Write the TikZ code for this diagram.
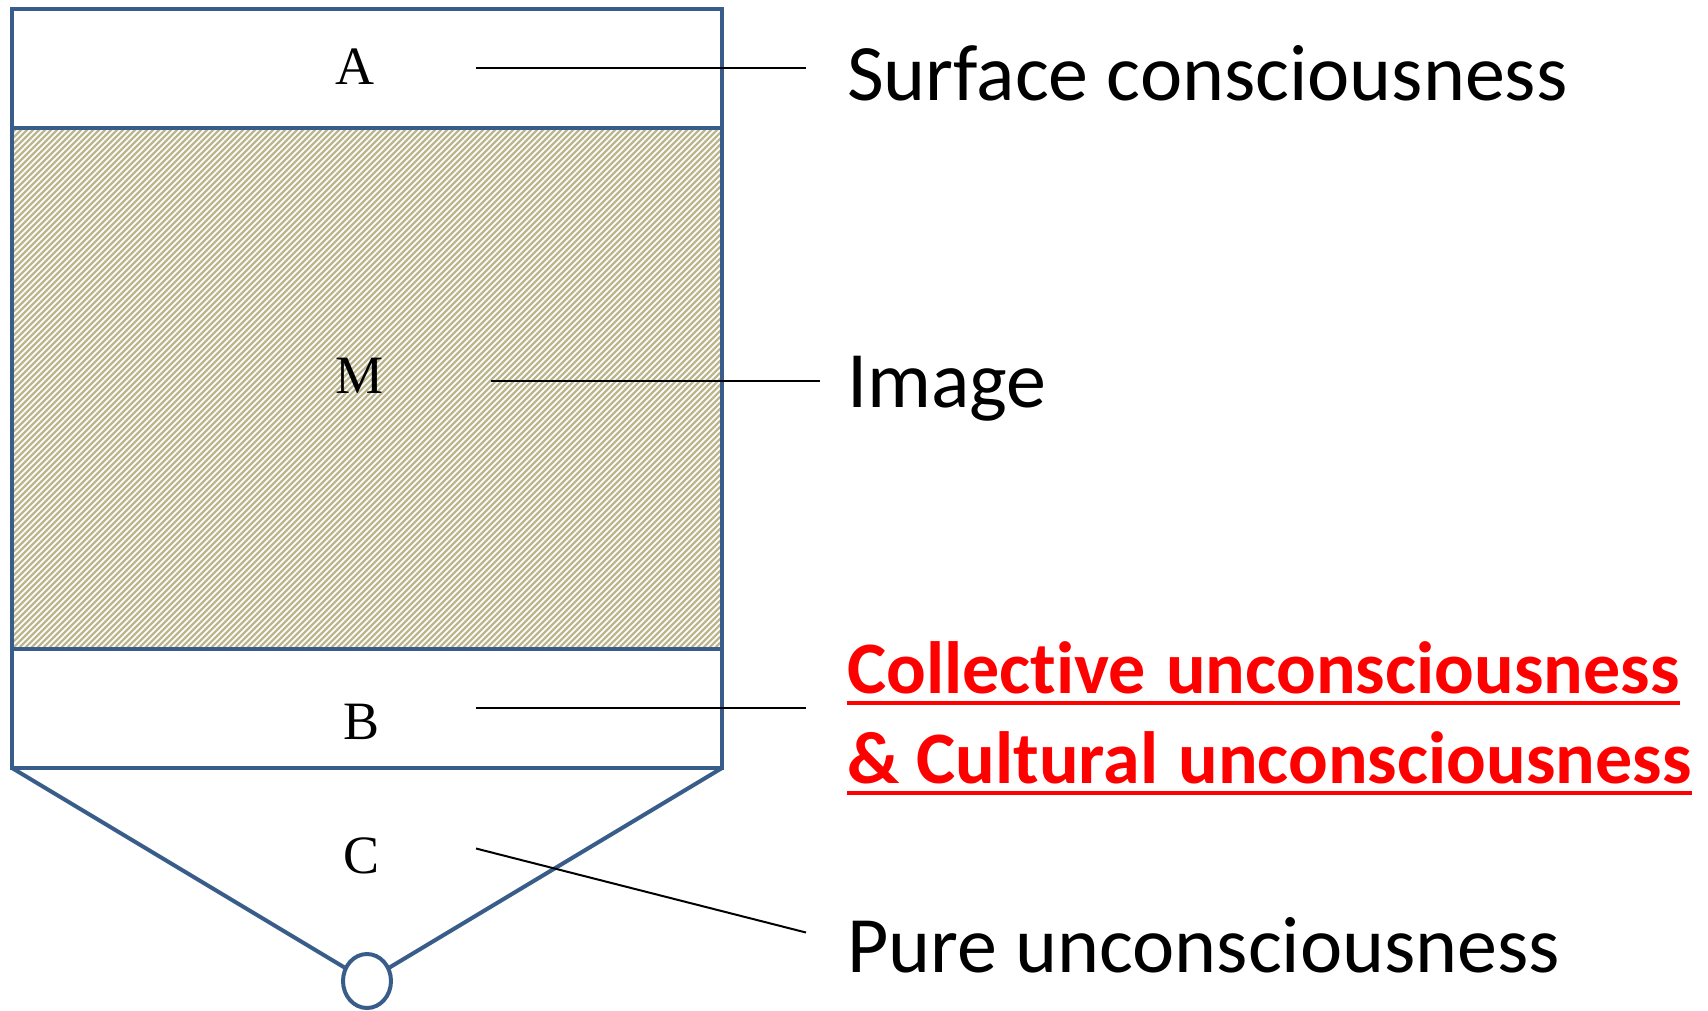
\documentclass[tikz,border=0pt]{standalone}
\usepackage{fontspec}
\setmainfont{Liberation Serif}
\newfontfamily\labelfont[Ligatures=NoCommon]{Carlito}
\definecolor{wallblue}{RGB}{56,93,138}
\definecolor{hatchtan}{RGB}{188,182,142}
\definecolor{keyred}{RGB}{255,0,0}
\begin{document}
\begin{tikzpicture}[x=1pt,y=-1pt,
  wall/.style={draw=wallblue, line width=4pt},
  hatchline/.style={draw=hatchtan, line width=2.4pt},
  leader/.style={draw=black, line width=2pt},
  layerletter/.style={font=\fontsize{54}{60}\selectfont, inner sep=0pt},
  caption/.style={font=\labelfont\fontsize{80}{96}\selectfont, anchor=base west, inner sep=0pt},
  keycaption/.style={font=\labelfont\bfseries\fontsize{74}{88}\selectfont, text=keyred, anchor=base west, inner sep=0pt},
  keyline/.style={draw=keyred, line width=4pt}
]
\useasboundingbox (0,0) rectangle (1708,1010);

% hatched middle layer
\begin{scope}
  \clip (12,127.5) rectangle (722,649);
  \foreach \k in {-540,-534,...,730}
    \draw[hatchline] (\k,649) -- ++(522,-522);
\end{scope}

% container: upper box with three layers, funnel below
\draw[wall, line join=miter] (12,8.7) rectangle (722,768);
\draw[wall] (12,127.5) -- (722,127.5);
\draw[wall] (12,649) -- (722,649);
\draw[wall] (12,768) -- (367,981) -- (722,768);
\draw[wall, fill=white] (367,981) ellipse [x radius=24, y radius=27];

% layer letters
\node[layerletter] (A) at (355,67) {A};
\node[layerletter] (M) at (360,376) {M};
\node[layerletter] (B) at (362,722) {B};
\node[layerletter] (C) at (362,856) {C};

% captions
\node[caption] (surface) at (847,100) {Surface consciousness};
\node[caption] (image) at (847,407) {Image};
\node[keycaption] (collective) at (847,693) {Collective\hspace{20pt}unconsciousness};
\node[keycaption] (cultural) at (847,783) {\&\hspace{17pt}Cultural\hspace{20pt}unconsciousness};
\node[caption] (pure) at (847,972) {Pure unconsciousness};

\draw[keyline] ([yshift=-10pt]collective.base west) -- ([yshift=-10pt]collective.base east);
\draw[keyline] ([yshift=-10pt]cultural.base west) -- ([yshift=-10pt]cultural.base east);

% leader lines
\coordinate (a0) at (476,67.5);   \coordinate (a1) at (806,67.5);
\coordinate (m0) at (491,381);    \coordinate (m1) at (820,381);
\coordinate (b0) at (476,708);    \coordinate (b1) at (806,708);
\coordinate (c0) at (476,848.5);  \coordinate (c1) at (806,932.5);
\draw[leader] (a0) -- (a1);
\draw[leader] (m0) -- (m1);
\draw[leader] (b0) -- (b1);
\draw[leader] (c0) -- (c1);
\end{tikzpicture}
\end{document}
